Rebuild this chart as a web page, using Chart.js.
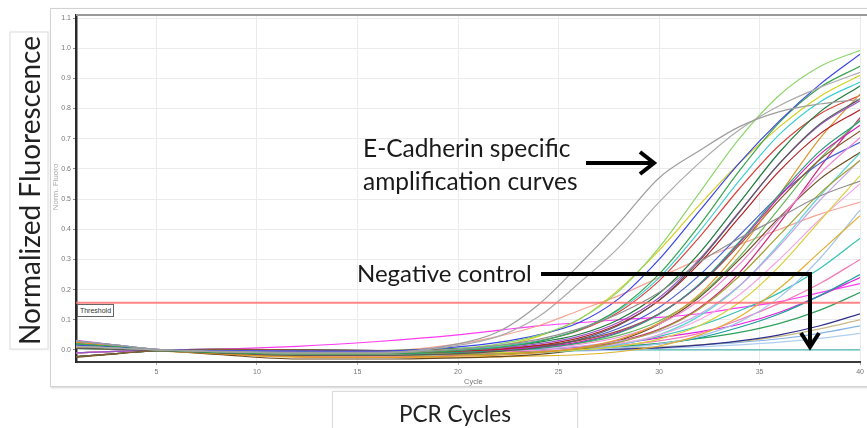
<!DOCTYPE html>
<html>
<head>
<meta charset="utf-8">
<script src="https://cdn.jsdelivr.net/npm/chart.js@4.4.1/dist/chart.umd.min.js"></script>
<style>
html,body{margin:0;padding:0;background:#fff;}
body{width:867px;height:428px;position:relative;overflow:hidden;font-family:Lato,"Open Sans",sans-serif;}
#panel{position:absolute;left:50px;top:8px;width:840px;height:377px;border:1px solid #d2d2d2;box-shadow:1px 1px 2px rgba(0,0,0,0.18);background:#fff;}
#topline{position:absolute;left:76px;top:14px;width:800px;height:2px;background:#9a9a9a;}
#wrap{position:absolute;left:0;top:0;width:867px;height:428px;}
canvas{position:absolute;left:0;top:0;}
.lbl{position:absolute;color:#1a1a1a;white-space:nowrap;}
#ybox{position:absolute;left:-130px;top:171px;width:316px;height:37px;line-height:37px;text-align:center;font-size:28px;color:#222;border:1px solid #dcdcdc;box-shadow:0 0 2px rgba(0,0,0,0.08);transform:rotate(-90deg);background:#fff;}
#xbox{position:absolute;left:332px;top:391px;width:244px;height:45px;line-height:43px;text-align:center;font-size:22.5px;color:#222;border:1px solid #dcdcdc;box-shadow:0 0 2px rgba(0,0,0,0.08);background:#fff;}
#normlbl{position:absolute;left:31px;top:182px;width:50px;height:10px;line-height:10px;text-align:center;font-family:"Liberation Sans",Arial,sans-serif;font-size:8px;color:#aaa;transform:rotate(-90deg);}
#cyclelbl{position:absolute;left:464px;top:377px;font-family:"Liberation Sans",Arial,sans-serif;font-size:7.5px;color:#777;}
#thrbox{position:absolute;left:77px;top:304px;width:35px;height:11px;line-height:11px;border:1px solid #666;background:#fff;font-family:"Liberation Sans",Arial,sans-serif;font-size:7px;color:#333;text-align:center;}
#ann1{left:363px;top:131px;font-size:24.5px;line-height:33px;}
#ann2{left:357px;top:256px;font-size:24px;line-height:33px;}
svg{position:absolute;left:0;top:0;}
</style>
</head>
<body>
<div id="panel"></div>
<div id="wrap"><canvas id="c" width="867" height="428"></canvas></div>
<div id="topline"></div>
<div id="ybox">Normalized Fluorescence</div>
<div id="xbox">PCR Cycles</div>
<div id="normlbl">Norm. Fluoro</div>
<div id="cyclelbl">Cycle</div>
<div id="thrbox">Threshold</div>
<div class="lbl" id="ann1">E-Cadherin specific<br>amplification curves</div>
<div class="lbl" id="ann2">Negative control</div>
<svg width="867" height="428">
  <line x1="586" y1="163" x2="651" y2="163" stroke="#000" stroke-width="4"/>
  <polyline points="640,152 654,163 640,174" fill="none" stroke="#000" stroke-width="4"/>
  <polyline points="541,274 810,274 810,346" fill="none" stroke="#000" stroke-width="4"/>
  <polyline points="801,333 810,347 819,333" fill="none" stroke="#000" stroke-width="4"/>
</svg>
<script>
// ---- data ----
const cycles = [1,3,5,8,12,16,20,22,24,26,28,30,32,34,36,38,40];
const xTickValues = [5,10,15,20,25,30,35,40];
const yTickValues = [0.0,0.1,0.2,0.3,0.4,0.5,0.6,0.7,0.8,0.9,1.0,1.1];
const thresholdValue = 0.156;

const gray1      = [0.030,0.016,0.002,-0.004,-0.008,-0.008,0.020,0.060,0.150,0.280,0.420,0.570,0.660,0.740,0.790,0.815,0.830];
const gray2      = [0.012,0.006,0.000,-0.006,-0.010,-0.010,0.015,0.045,0.110,0.220,0.340,0.490,0.620,0.730,0.810,0.870,0.920];
const gray3      = [0.012,0.006,0.000,-0.006,-0.010,-0.010,0.002,0.015,0.035,0.070,0.120,0.190,0.290,0.370,0.440,0.510,0.560];
const lightGreen = [0.012,0.006,0.000,-0.006,-0.010,-0.010,0.004,0.019,0.048,0.101,0.195,0.339,0.520,0.701,0.845,0.939,0.993];
const blue       = [0.015,0.008,0.001,-0.002,-0.004,-0.004,0.010,0.025,0.050,0.090,0.170,0.300,0.460,0.620,0.760,0.880,0.980];
const green      = [0.020,0.010,0.000,-0.008,-0.012,-0.012,-0.002,0.008,0.028,0.066,0.136,0.251,0.412,0.594,0.755,0.870,0.940];
const cyan       = [0.030,0.016,0.002,-0.004,-0.008,-0.008,0.001,0.011,0.029,0.066,0.132,0.239,0.392,0.562,0.715,0.822,0.888];
const darkGray   = [0.005,0.002,-0.002,-0.010,-0.018,-0.018,-0.012,-0.005,0.008,0.034,0.082,0.165,0.295,0.457,0.619,0.749,0.832];
const purple     = [-0.010,-0.005,0.000,-0.004,-0.008,-0.006,0.000,0.007,0.020,0.045,0.092,0.173,0.300,0.459,0.618,0.745,0.826];
const darkRed    = [0.012,0.006,0.000,-0.006,-0.010,-0.010,-0.004,0.002,0.015,0.039,0.085,0.164,0.286,0.440,0.594,0.716,0.796];
const tealGreen  = [0.020,0.010,0.000,-0.008,-0.012,-0.012,-0.008,-0.003,0.005,0.023,0.056,0.118,0.218,0.359,0.517,0.659,0.758];
const magenta    = [0.030,0.016,0.002,-0.004,-0.008,-0.008,-0.004,0.000,0.009,0.026,0.059,0.119,0.216,0.355,0.509,0.648,0.745];
const orange     = [0.025,0.012,0.000,-0.012,-0.022,-0.024,-0.020,-0.017,-0.009,0.006,0.035,0.089,0.184,0.331,0.516,0.701,0.848];
const pink       = [-0.010,-0.005,0.000,-0.004,-0.008,-0.006,-0.003,0.000,0.006,0.018,0.042,0.086,0.164,0.284,0.434,0.584,0.704];
const brown      = [-0.022,-0.012,-0.002,0.002,0.000,-0.002,0.002,0.006,0.014,0.031,0.063,0.120,0.215,0.348,0.498,0.631,0.726];
const yellow     = [0.012,0.006,0.000,-0.006,-0.010,-0.010,-0.004,0.012,0.045,0.100,0.200,0.330,0.480,0.620,0.740,0.840,0.910];
const olive      = [0.005,0.002,-0.002,-0.010,-0.018,-0.018,-0.015,-0.013,-0.007,0.004,0.025,0.066,0.136,0.245,0.382,0.519,0.628];
const lightPurple= [0.015,0.008,0.001,-0.002,-0.004,-0.004,-0.002,0.000,0.004,0.012,0.029,0.061,0.118,0.213,0.346,0.496,0.629];
const yellow2    = [0.020,0.010,0.000,-0.008,-0.012,-0.012,-0.011,-0.009,-0.006,0.000,0.012,0.036,0.080,0.158,0.278,0.428,0.578];
const pink2      = [0.030,0.016,0.002,-0.004,-0.008,-0.008,-0.006,-0.005,-0.001,0.006,0.021,0.049,0.100,0.183,0.301,0.433,0.551];
const darkGreen  = [-0.022,-0.012,-0.002,0.002,0.000,-0.002,0.005,0.011,0.025,0.051,0.101,0.187,0.320,0.488,0.656,0.789,0.875];
const blue2      = [0.012,0.006,0.000,-0.006,-0.010,-0.010,-0.005,0.001,0.011,0.032,0.072,0.141,0.247,0.380,0.513,0.619,0.688];
const red2       = [-0.010,-0.005,0.000,-0.004,-0.008,-0.006,0.003,0.012,0.030,0.064,0.126,0.229,0.373,0.535,0.679,0.782,0.844];
const green3     = [0.015,0.008,0.001,-0.002,-0.004,-0.004,-0.001,0.002,0.009,0.022,0.048,0.096,0.179,0.309,0.471,0.633,0.763];
const cyan2      = [0.005,0.002,-0.002,-0.010,-0.018,-0.018,-0.016,-0.014,-0.009,-0.001,0.017,0.050,0.112,0.212,0.353,0.511,0.653];
const crimson    = [0.020,0.010,0.000,-0.008,-0.012,-0.012,-0.010,-0.007,-0.002,0.008,0.029,0.068,0.139,0.256,0.421,0.605,0.770];
const brownLow   = [-0.025,-0.013,-0.003,-0.015,-0.030,-0.030,-0.026,-0.022,-0.015,0.001,0.031,0.085,0.174,0.300,0.440,0.566,0.655];
const goldLow    = [0.008,0.004,-0.002,-0.014,-0.024,-0.025,-0.024,-0.023,-0.020,-0.016,-0.006,0.013,0.049,0.110,0.205,0.325,0.445];
const salmon     = [0.015,0.008,0.001,-0.002,-0.004,-0.004,0.020,0.045,0.080,0.130,0.180,0.240,0.300,0.350,0.400,0.450,0.490];
const lightBlue  = [-0.010,-0.005,0.000,-0.004,-0.008,-0.006,-0.005,-0.005,-0.003,0.000,0.007,0.020,0.045,0.093,0.175,0.303,0.464];
const teal       = [0.012,0.006,0.000,-0.006,-0.010,-0.010,-0.008,-0.005,0.000,0.008,0.020,0.045,0.080,0.130,0.190,0.270,0.370];
const pink3      = [0.030,0.016,0.002,-0.004,-0.008,-0.008,-0.010,-0.008,-0.003,0.005,0.015,0.030,0.055,0.100,0.155,0.220,0.300];
const teal2      = [0.020,0.010,0.000,-0.008,-0.012,-0.012,-0.010,-0.007,-0.002,0.003,0.010,0.020,0.040,0.075,0.120,0.180,0.250];
const magenta2   = [0.025,0.012,0.000,-0.012,-0.022,-0.024,-0.018,-0.010,-0.002,0.008,0.020,0.040,0.060,0.085,0.125,0.180,0.240];
const magentaEarly=[0.032,0.016,0.001,0.003,0.012,0.028,0.050,0.065,0.080,0.090,0.100,0.108,0.120,0.140,0.160,0.190,0.220];
const green4     = [0.005,0.002,-0.002,-0.010,-0.018,-0.018,-0.012,-0.008,-0.002,0.004,0.012,0.022,0.038,0.058,0.088,0.132,0.190];
const darkBlue   = [-0.022,-0.012,-0.002,0.002,0.000,-0.002,-0.004,-0.004,-0.002,0.000,0.003,0.007,0.016,0.030,0.050,0.080,0.120];
const olive2     = [-0.010,-0.005,0.000,-0.004,-0.008,-0.006,-0.005,-0.004,-0.002,0.001,0.005,0.010,0.017,0.028,0.045,0.070,0.100];
const lightBlue2 = [0.015,0.008,0.001,-0.002,-0.004,-0.004,-0.004,-0.003,-0.002,0.000,0.004,0.009,0.016,0.025,0.037,0.055,0.080];
const lightBlue3 = [0.012,0.006,0.000,-0.006,-0.010,-0.010,-0.009,-0.008,-0.006,-0.004,0.000,0.005,0.010,0.017,0.026,0.038,0.055];
const negControl = [-0.010,-0.005,0.000,-0.004,-0.006,-0.004,-0.002,-0.001,0.000,0.000,0.000,0.000,0.000,0.000,0.000,0.000,0.000];

// ---- styles (kept separate from data) ----
const series = [
  [gray1,'#9d9d9d'],[gray2,'#ababab'],[gray3,'#909090'],
  [lightGreen,'#8ed66c'],[blue,'#3a44e8'],[green,'#39a34d'],[cyan,'#3ccfd1'],
  [darkGray,'#5a5a5a'],[purple,'#9b55c8'],[darkRed,'#b21e25'],[tealGreen,'#2a9e7c'],
  [magenta,'#cf22b4'],[orange,'#e0962a'],[pink,'#f08ad6'],[brown,'#8c5a2e'],
  [yellow,'#d4d01c'],[olive,'#a3a032'],[lightPurple,'#c6a2e6'],[yellow2,'#d8d13a'],
  [pink2,'#f3a6e4'],[darkGreen,'#1f7a3e'],[blue2,'#4a62d6'],[red2,'#d8453e'],
  [green3,'#66b85e'],[cyan2,'#5fd6d2'],[crimson,'#c8287a'],[brownLow,'#6b4a1e'],
  [goldLow,'#e0b030'],[salmon,'#f6a496'],[lightBlue,'#a5c4ea'],[teal,'#33c2b2'],
  [pink3,'#f27ab8'],[teal2,'#1c9c9c'],[magenta2,'#e41ee0'],[magentaEarly,'#ff3cf2'],
  [green4,'#2ea05a'],[darkBlue,'#2e2e8c'],[olive2,'#c9b98a'],[lightBlue2,'#86b4e6'],
  [lightBlue3,'#b0cdf2'],[negControl,'#4fb5b0']
];

const datasets = [{
  data:[{x:cycles[0],y:thresholdValue},{x:cycles[cycles.length-1],y:thresholdValue}],
  borderColor:'rgba(255,110,110,0.85)', borderWidth:2, cubicInterpolationMode:'default'
}];
series.forEach(([vals,color])=>{
  datasets.push({
    data: cycles.map((c,i)=>({x:c,y:vals[i]})),
    borderColor: color, borderWidth: 1.2
  });
});

new Chart(document.getElementById('c'), {
  type:'line',
  data:{datasets},
  options:{
    responsive:false, animation:false, devicePixelRatio:1,
    layout:{padding:{left:0,right:2,top:15,bottom:0}},
    plugins:{legend:{display:false},tooltip:{enabled:false}},
    elements:{point:{radius:0},line:{tension:0.4,cubicInterpolationMode:'monotone'}},
    scales:{
      x:{type:'linear',min:1,max:40,
        afterBuildTicks:(s)=>{s.ticks=xTickValues.map(v=>({value:v}));},
        afterFit:(s)=>{s.height=66;},
        grid:{color:'#ebebeb',tickLength:3,tickColor:'#aaa'},
        border:{color:'#3a3a3a',width:2},
        ticks:{font:{size:7,family:'Liberation Sans'},color:'#777',padding:3,maxRotation:0,autoSkip:false,callback:v=>String(v)}
      },
      y:{type:'linear',min:-0.04,max:1.11,
        afterBuildTicks:(s)=>{s.ticks=yTickValues.map(v=>({value:v}));},
        afterFit:(s)=>{s.width=76;},
        grid:{color:'#ebebeb',tickLength:3,tickColor:'#888'},
        border:{color:'#2a2a2a',width:2.5},
        ticks:{font:{size:7,family:'Liberation Sans'},color:'#777',padding:2,autoSkip:false,callback:v=>Number(v).toFixed(1)}
      }
    }
  }
});
</script>
</body>
</html>
